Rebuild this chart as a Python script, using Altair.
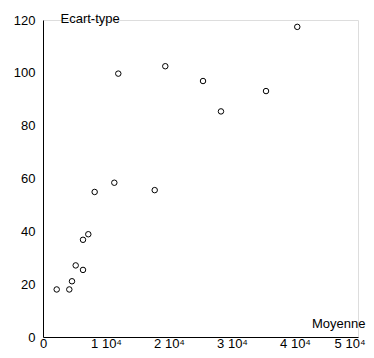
import altair as alt
import pandas as pd

moyenne = [2175, 4175, 4600, 5190, 6350, 6350, 7190, 8200, 11320, 17730,
           11950, 19410, 25400, 28250, 35400, 40360]
ecart = [18.0, 18.0, 21.1, 27.1, 25.4, 36.8, 38.9, 54.9, 58.4, 55.6,
         99.7, 102.5, 96.9, 85.4, 93.1, 117.4]
x_ticks = [0, 10000, 20000, 30000, 40000, 50000]
y_ticks = [0, 20, 40, 60, 80, 100, 120]

df = pd.DataFrame({"Moyenne": moyenne, "Ecart": ecart})

FONT = "Liberation Sans"
FS = 13

chart = alt.Chart(df).mark_point(
    shape="circle", filled=False, size=30, stroke="black", strokeWidth=1, opacity=1
).encode(
    x=alt.X("Moyenne:Q",
            scale=alt.Scale(domain=[0, 50000], nice=False, zero=True),
            axis=alt.Axis(values=x_ticks, grid=False, ticks=False, tickSize=0,
                          labelPadding=0, domainColor="black", labelColor="black",
                          labelFont=FONT, labelFontSize=FS,
                          labelExpr="datum.value == 0 ? '0' : (datum.value/10000) + ' 10⁴'",
                          labelAlign={"condition": {"test": "datum.value == 50000", "value": "right"},
                                      "value": "center"},
                          labelOffset={"condition": {"test": "datum.value == 50000", "value": 7},
                                       "value": 0},
                          labelOverlap=False, labelFlush=False,
                          title="Moyenne", titleFont=FONT, titleFontSize=FS,
                          titleFontWeight="normal", titleColor="black",
                          titleAlign="right", titleBaseline="middle", titleAngle=0,
                          titleX=322, titleY=-14)),
    y=alt.Y("Ecart:Q",
            scale=alt.Scale(domain=[0, 120], nice=False),
            axis=alt.Axis(values=y_ticks, grid=False, ticks=False, tickSize=0,
                          labelPadding=8, domainColor="black", labelColor="black",
                          labelFont=FONT, labelFontSize=FS, labelFlush=False,
                          labelOverlap=False,
                          title="Ecart-type", titleFont=FONT, titleFontSize=FS,
                          titleFontWeight="normal", titleColor="black",
                          titleAlign="left", titleBaseline="middle", titleAngle=0,
                          titleX=17, titleY=-2)),
).properties(
    width=315, height=317,
    autosize=alt.AutoSizeParams(type="none"),
    padding={"left": 35, "top": 12, "right": 8, "bottom": 13},
).configure_view(stroke=None).configure(background="white")

chart.save("out.html", embed_options={"renderer": "svg", "actions": False})
